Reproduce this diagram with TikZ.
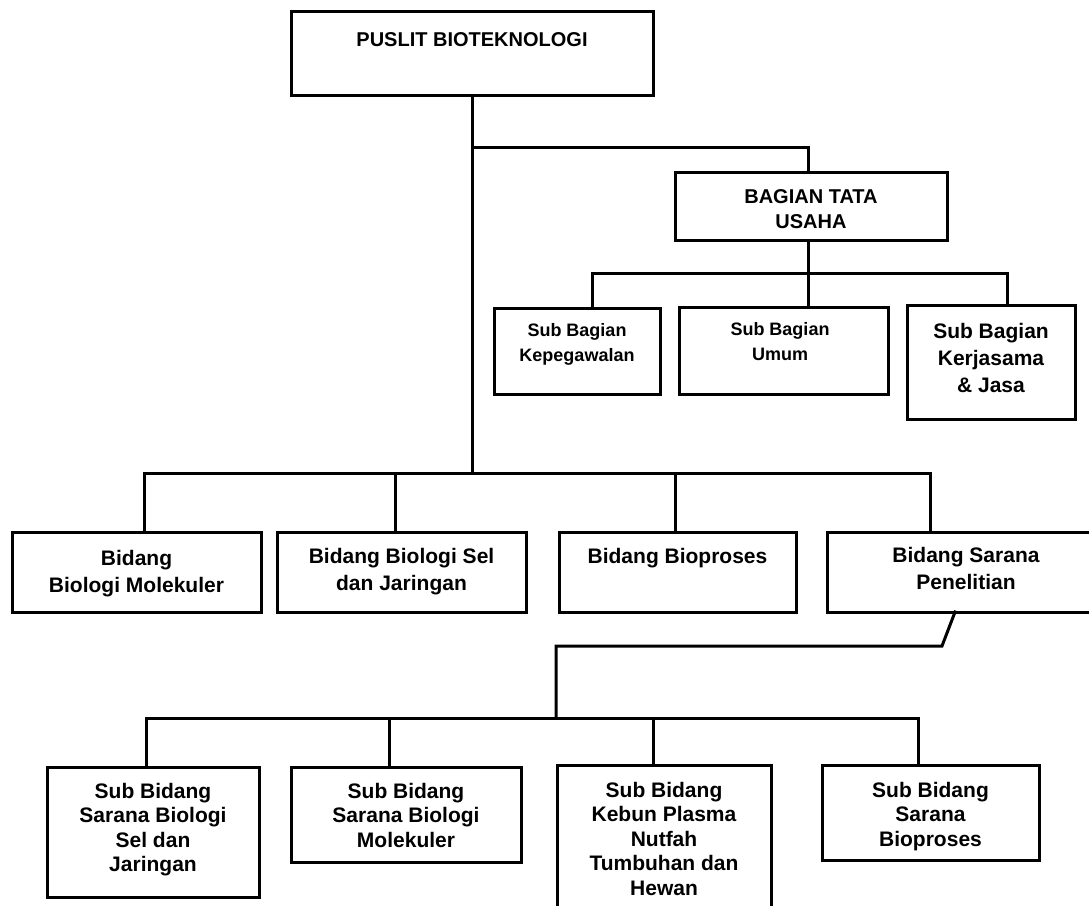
\documentclass[tikz,border=0pt]{standalone}
\usepackage{fontspec}
\setmainfont{Liberation Sans}
\begin{document}
\begin{tikzpicture}[x=1pt,y=-1pt,
  box/.style={draw, line width=3pt, inner sep=0pt, outer sep=0pt},
  conn/.style={line width=3pt, line cap=rect},
  lbl/.style={anchor=north, align=center, inner sep=0pt, outer sep=0pt},
  fbig/.style={font=\bfseries\fontsize{20}{25}\selectfont},
  fmid/.style={font=\bfseries\fontsize{18}{25}\selectfont},
  fbid/.style={font=\bfseries\fontsize{21}{27}\selectfont},
  fsub/.style={font=\bfseries\fontsize{21}{24.5}\selectfont}]
\useasboundingbox (0,0) rectangle (1089,905);
\clip (0,0) rectangle (1089,905);
\fill[white] (0,0) rectangle (1089,905);
% boxes
\node[box, minimum width=362, minimum height=84] (T) at (472,53) {};
\node[box, minimum width=272, minimum height=68] (B) at (811,206) {};
\node[box, minimum width=166, minimum height=86] (K) at (577,351) {};
\node[box, minimum width=209, minimum height=87] (U) at (783.5,350.5) {};
\node[box, minimum width=168, minimum height=114] (J) at (991,362) {};
\node[box, minimum width=249, minimum height=80] (M) at (136.5,572) {};
\node[box, minimum width=249, minimum height=80] (S) at (401.5,572) {};
\node[box, minimum width=237, minimum height=80] (P) at (677.5,572) {};
\node[box, minimum width=280, minimum height=80] (R) at (967,572) {};
\node[box, minimum width=212, minimum height=130] (SB1) at (153,832) {};
\node[box, minimum width=230, minimum height=95] (SB2) at (406,814.5) {};
\node[box, minimum width=214, minimum height=150] (SB3) at (664,840) {};
\node[box, minimum width=217, minimum height=95] (SB4) at (930.5,812.5) {};
% texts
\node[lbl, fbig] (Tt) at (472,33) {PUSLIT BIOTEKNOLOGI};
\node[lbl, fbig] (Bt) at (811,190) {BAGIAN TATA\\USAHA};
\node[lbl, fmid] (Kt) at (577,323) {Sub Bagian\\Kepegawalan};
\node[lbl, fmid] (Ut) at (780,322) {Sub Bagian\\Umum};
\node[lbl, fbid] (Jt) at (991,323) {Sub Bagian\\Kerjasama\\\& Jasa};
\node[lbl, fbid] (Mt) at (136.5,550) {Bidang\\Biologi Molekuler};
\node[lbl, fbid] (St) at (401.5,548) {Bidang Biologi Sel\\dan Jaringan};
\node[lbl, fbid] (Pt) at (677.5,548) {Bidang Bioproses};
\node[lbl, fbid] (Rt) at (966,547) {Bidang Sarana\\Penelitian};
\node[lbl, fsub] (SB1t) at (153,783) {Sub Bidang\\Sarana Biologi\\Sel dan\\Jaringan};
\node[lbl, fsub] (SB2t) at (406,783) {Sub Bidang\\Sarana Biologi\\Molekuler};
\node[lbl, fsub] (SB3t) at (664,782) {Sub Bidang\\Kebun Plasma\\Nutfah\\Tumbuhan dan\\Hewan};
\node[lbl, fsub] (SB4t) at (930.5,782) {Sub Bidang\\Sarana\\Bioproses};
% junction coordinates
\coordinate (j0) at (472,147);
\coordinate (bus2) at (808,273);
\coordinate (bus3) at (472,473);
\coordinate (k1) at (942,646);
\coordinate (k2) at (556,646);
\coordinate (bus4) at (556,718);
% connectors
\draw[conn] (T.south) -- (bus3);
\draw[conn] (j0) -| ([xshift=-3pt]B.north);
\draw[conn] ([xshift=-3pt]B.south) -- ([xshift=-3pt]B.south |- U.north);
\draw[conn] ([xshift=15pt]K.north) |- (bus2) -| ([xshift=16pt]J.north);
\draw[conn] ([xshift=8pt]M.north) |- (bus3) -| ([xshift=-37pt]R.north);
\draw[conn] ([xshift=-6pt]S.north) -- ([xshift=-6pt]S.north |- bus3);
\draw[conn] ([xshift=-2pt]P.north) -- ([xshift=-2pt]P.north |- bus3);
\draw[conn] ([xshift=-12pt]R.south) -- (k1) -- (k2) -- (bus4);
\draw[conn] ([xshift=-7pt]SB1.north) |- (bus4) -| ([xshift=-12.5pt]SB4.north);
\draw[conn] ([xshift=-17pt]SB2.north) -- ([xshift=-17pt]SB2.north |- bus4);
\draw[conn] ([xshift=-11pt]SB3.north) -- ([xshift=-11pt]SB3.north |- bus4);
\end{tikzpicture}
\end{document}
